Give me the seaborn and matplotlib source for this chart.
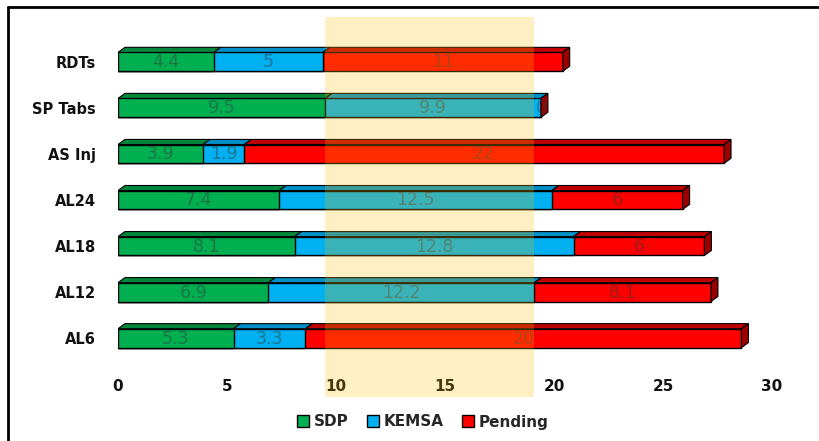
import matplotlib
matplotlib.use("Agg")
import matplotlib.pyplot as plt
import pandas as pd
import seaborn as sns
from matplotlib.patches import Polygon, Rectangle, Patch
from matplotlib.lines import Line2D
from matplotlib.transforms import blended_transform_factory, ScaledTranslation

# Stock of antimalarial commodities (thousands of units)
products = ["RDTs", "SP Tabs", "AS Inj", "AL24", "AL18", "AL12", "AL6"]
sdp = [4.4, 9.5, 3.9, 7.4, 8.1, 6.9, 5.3]
kemsa = [5, 9.9, 1.9, 12.5, 12.8, 12.2, 3.3]
pending = [11, 0, 22, 6, 6, 8.1, 20]
x_ticks = [0, 5, 10, 15, 20, 25, 30]
series_names = ["SDP", "KEMSA", "Pending"]
band_range = (9.5, 19.1)

front = ["#00B050", "#00B0F0", "#FF0000"]
top = ["#00873C", "#0090C8", "#C00000"]
side = "#9A0000"

sns.set_theme(style="white")
plt.rcParams["font.family"] = ["DejaVu Sans"]

df = pd.DataFrame({"product": products, "sdp": sdp, "kemsa": kemsa, "pending": pending})
df["c1"] = df["sdp"]
df["c2"] = df["sdp"] + df["kemsa"]
df["c3"] = df["c2"] + df["pending"]

fig = plt.figure(figsize=(8.19, 4.41), dpi=100)
ax = fig.add_axes([118 / 819, 1 - 375 / 441, 654 / 819, 350 / 441])

bar_h = 0.41
for col, color in zip(["c3", "c2", "c1"], front[::-1]):
    sns.barplot(data=df, x=col, y="product", order=products, color=color,
                saturation=1, width=bar_h, edgecolor="black", linewidth=1,
                errorbar=None, ax=ax, zorder=2)

# 3-D look: top faces and right end face
dx, dy = 0.32, 0.11
for i, row in df.iterrows():
    yt = i - bar_h / 2
    bounds = [0, row["c1"], row["c2"], row["c3"]]
    for k in range(3):
        x0, x1 = bounds[k], bounds[k + 1]
        ax.add_patch(Polygon([(x0, yt), (x1, yt), (x1 + dx, yt - dy), (x0 + dx, yt - dy)],
                             closed=True, facecolor=top[k], edgecolor="black",
                             linewidth=0.8, zorder=2.5))
    xe = bounds[3]
    ax.add_patch(Polygon([(xe, yt), (xe + dx, yt - dy), (xe + dx, yt + bar_h - dy), (xe, yt + bar_h)],
                         closed=True, facecolor=side, edgecolor="black",
                         linewidth=0.8, zorder=2.5))
    vals = [row["sdp"], row["kemsa"], row["pending"]]
    for k in range(3):
        cx = (bounds[k] + bounds[k + 1]) / 2
        ax.text(cx, i + 0.01, f"{vals[k]:g}", ha="center", va="center",
                fontsize=12.5, color="#3a3a3a", alpha=0.5, zorder=3)

# Highlighted range
blend = blended_transform_factory(ax.transData, fig.transFigure)
ax.add_patch(Rectangle((band_range[0], 1 - 397 / 441), band_range[1] - band_range[0],
                       (397 - 17) / 441, transform=blend, facecolor="#FFC000",
                       alpha=0.23, edgecolor="none", clip_on=False, zorder=4))

ax.set_xlim(0, 30)
ax.set_ylim(6.8, -0.8)
ax.set_xticks(x_ticks)
ax.set_xticklabels([str(t) for t in x_ticks], fontsize=11, fontweight="bold", color="#111111")
shift = ScaledTranslation(-5 / 100, 0, fig.dpi_scale_trans)
for lbl in ax.get_xticklabels():
    lbl.set_transform(lbl.get_transform() + shift)
ax.tick_params(axis="x", length=0, pad=3)
ax.tick_params(axis="y", length=0, pad=16)
for lbl in ax.get_yticklabels():
    lbl.set_fontweight("bold")
    lbl.set_fontsize(10.5)
    lbl.set_color("#111111")
ax.set_xlabel("")
ax.set_ylabel("")
for s in ax.spines.values():
    s.set_visible(False)
ax.grid(False)

handles = [Patch(facecolor=c, edgecolor="black", linewidth=1) for c in front]
fig.legend(handles, series_names, loc="center", bbox_to_anchor=(423 / 819, 1 - 422 / 441),
           ncol=3, frameon=False, handlelength=0.8, handleheight=0.8,
           handletextpad=0.3, columnspacing=1.2,
           prop={"weight": "bold", "size": 11})

# Frame edges
fig.add_artist(Line2D([7.5 / 819, 7.5 / 819], [0, 1 - 7 / 441], transform=fig.transFigure,
                      color="black", linewidth=2))
fig.add_artist(Line2D([7.5 / 819, 1], [1 - 7 / 441, 1 - 7 / 441], transform=fig.transFigure,
                      color="black", linewidth=2))

fig.savefig("out.png", dpi=100)
